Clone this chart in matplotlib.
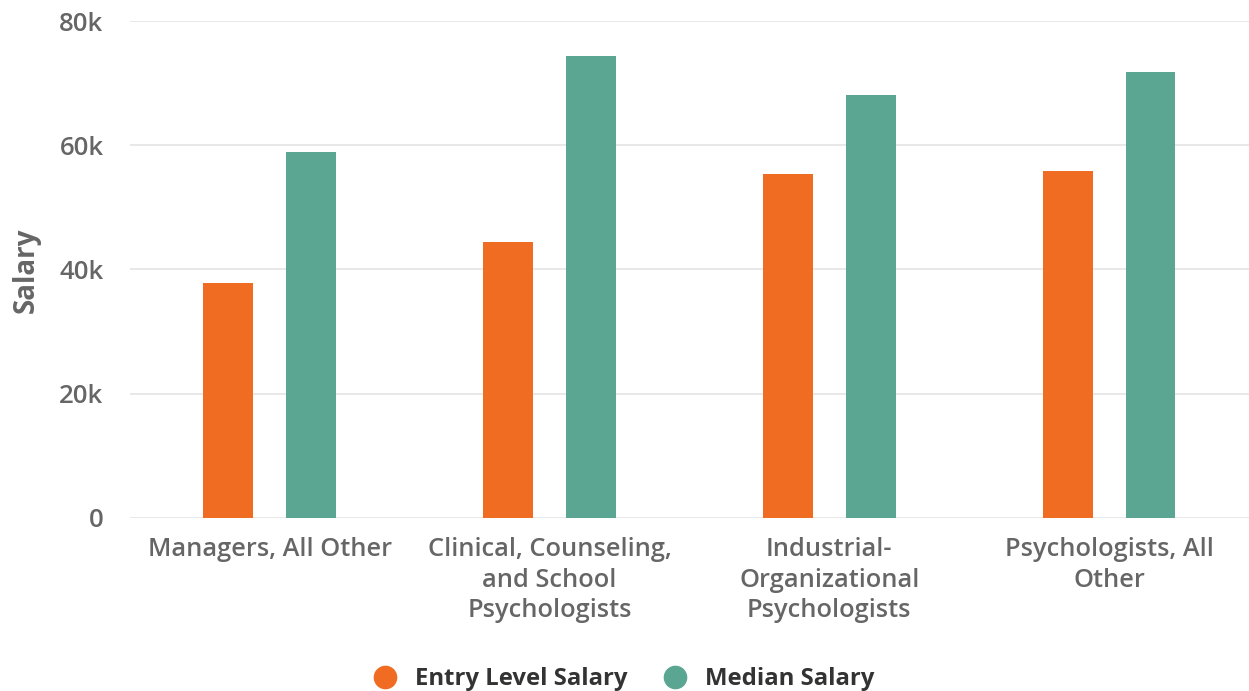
import numpy as np
from matplotlib import pyplot as plt
from matplotlib.lines import Line2D

# %% data
categories = ['Managers, All Other',
              'Clinical, Counseling,\nand School\nPsychologists',
              'Industrial-\nOrganizational\nPsychologists',
              'Psychologists, All\nOther']
entry_salary = [37800, 44500, 55300, 55800]
median_salary = [58900, 74400, 68100, 71800]
series_names = ['Entry Level Salary', 'Median Salary']
yticks = [0, 20000, 40000, 60000, 80000]
ytick_labels = ['0', '20k', '40k', '60k', '80k']

# %% style
plt.rcParams['font.family'] = ['Open Sans', 'DejaVu Sans']
clr_list = ['#F06C22', '#5BA692']
grey = '#666666'

fig = plt.figure(figsize=(12.49, 6.91), dpi=100)
ax = fig.add_axes([0.104, 0.2504, 0.896, 0.7192])

x = np.arange(len(categories))
w = 0.178
off = 0.148
ax.bar(x - off, entry_salary, width=w, color=clr_list[0], zorder=3)
ax.bar(x + off, median_salary, width=w, color=clr_list[1], zorder=3)

ax.set_xlim(-0.5, len(categories) - 0.5)
ax.set_ylim(0, 80000)
ax.set_yticks(yticks)
ax.set_yticklabels(ytick_labels, fontsize=18.5, color=grey, fontweight='semibold')
ax.set_xticks(x)
ax.set_xticklabels(categories, fontsize=18.3, color=grey, fontweight='semibold',
                   linespacing=1.28, va='top')
ax.tick_params(axis='both', length=0)
ax.tick_params(axis='y', pad=19)
ax.tick_params(axis='x', pad=14)
ax.grid(axis='y', color='#e6e6e6', linewidth=1.3, zorder=0)
for s in ax.spines.values():
    s.set_visible(False)

fig.text(0.021, 0.609, 'Salary', rotation='vertical', ha='center', va='center',
         fontsize=20, fontweight='bold', color=grey)

handles = [Line2D([], [], marker='o', linestyle='', markersize=16,
                  markerfacecolor=c, markeredgecolor=c) for c in clr_list]
leg = fig.legend(handles, series_names, loc='center', bbox_to_anchor=(0.4945, 0.017),
                 ncol=2, frameon=False, handletextpad=0.25, columnspacing=1.0,
                 prop={'size': 17.2, 'weight': 'bold'})
for t in leg.get_texts():
    t.set_color('#333333')

fig.savefig('out.png', dpi=100)
